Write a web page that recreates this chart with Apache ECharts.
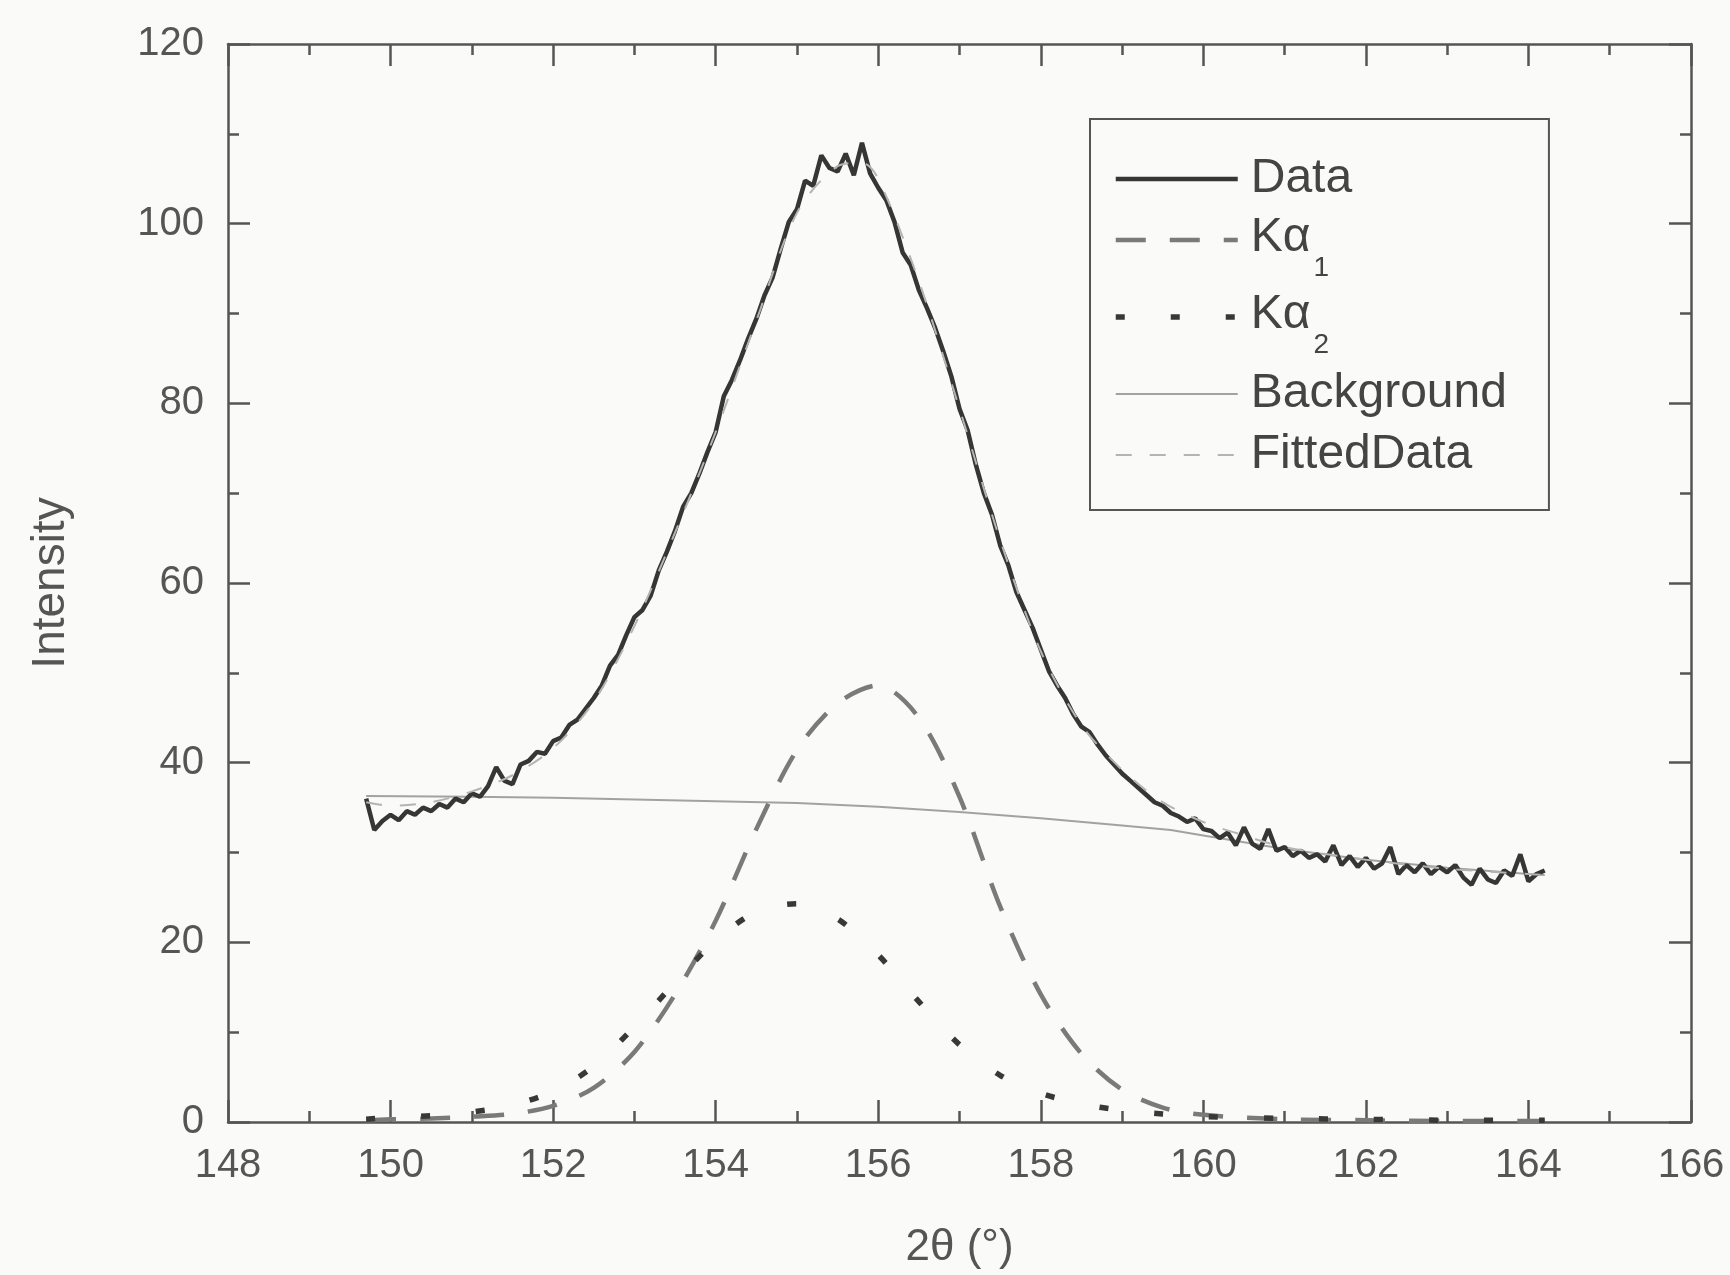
<!DOCTYPE html>
<html>
<head>
<meta charset="utf-8">
<title>XRD peak fit</title>
<script src="https://cdn.jsdelivr.net/npm/echarts@6/dist/echarts.min.js"></script>
<style>
  html, body { margin: 0; padding: 0; background: #fafaf8; }
  #chart { width: 1730px; height: 1275px; }
</style>
</head>
<body>
<div id="chart"></div>
<script>
// 측정 데이터: 149.7°부터 0.1° 간격
const DATA_X0 = 149.7;
const DATA_STEP = 0.1;
const dataY = [
  36.0, 32.5, 33.5, 34.2, 33.6, 34.6, 34.2, 35.0, 34.6, 35.4,
  35.0, 36.0, 35.6, 36.6, 36.2, 37.4, 39.5, 38.0, 37.6, 39.8,
  40.2, 41.2, 41.0, 42.4, 42.8, 44.2, 44.8, 46.0, 47.2, 48.6,
  50.8, 52.0, 54.2, 56.2, 57.0, 58.6, 61.4, 63.5, 65.8, 68.5,
  70.0, 72.2, 74.6, 76.8, 80.8, 82.6, 84.8, 87.2, 89.4, 92.0,
  94.0, 97.2, 100.2, 101.6, 104.8, 104.2, 107.6, 106.2, 105.8, 107.8,
  105.4, 109.0, 105.6, 104.0, 102.6, 100.2, 96.8, 95.4, 92.6, 90.6,
  88.4, 85.8, 83.0, 79.4, 77.0, 73.2, 70.0, 67.6, 64.2, 62.0,
  59.0, 57.0, 55.0, 52.6, 50.2, 48.6, 47.2, 45.4, 44.0, 43.4,
  42.0, 40.8, 39.8, 38.8, 38.0, 37.2, 36.4, 35.6, 35.2, 34.4,
  34.0, 33.4, 33.8, 32.6, 32.4, 31.6, 32.2, 30.8, 32.8, 31.0,
  30.4, 32.6, 30.2, 30.6, 29.6, 30.2, 29.4, 29.8, 29.0, 30.8,
  28.6, 29.6, 28.4, 29.4, 28.2, 28.8, 30.6, 27.6, 28.6, 27.8,
  28.8, 27.6, 28.4, 27.8, 28.6, 27.2, 26.4, 28.2, 27.0, 26.6,
  28.0, 27.4, 29.8, 26.8, 27.6, 28.0
];

// Kα1 / Kα2 성분
const peakX = [149.7, 150, 150.5, 151, 151.5, 152, 152.5, 153, 153.5, 154, 154.5, 155, 155.5,
  156, 156.5, 157, 157.5, 158, 158.5, 159, 159.5, 160, 161, 162, 163, 164, 164.2];
const ka1Y = [0.2, 0.3, 0.4, 0.6, 0.9, 1.8, 3.8, 7.8, 14.2, 22.4, 32.6, 41.4, 46.6,
  48.6, 45.0, 36.2, 24.0, 14.2, 7.6, 3.6, 1.6, 0.8, 0.3, 0.2, 0.1, 0.1, 0.1];
const ka2Y = [0.3, 0.5, 0.7, 1.1, 1.9, 3.4, 6.2, 10.6, 15.5, 20.2, 23.4, 24.3, 22.6,
  18.6, 13.4, 8.6, 5.2, 3.2, 2.0, 1.3, 0.9, 0.6, 0.4, 0.3, 0.2, 0.2, 0.2];

// 배경
const bgX = [149.7, 151, 152, 153, 154, 155, 156, 157, 158, 159, 159.6, 160, 161, 162, 163, 164, 164.2];
const bgY = [36.3, 36.2, 36.1, 35.9, 35.7, 35.5, 35.1, 34.5, 33.8, 33.0, 32.5, 31.9, 30.4, 29.2, 28.3, 27.6, 27.5];

// 피팅 결과
const fitX = [149.7, 150, 150.5, 151, 151.5, 152, 152.5, 153, 153.5, 154, 154.5, 155, 155.5, 155.8,
  156, 156.5, 157, 157.5, 158, 158.5, 159, 159.5, 160, 160.5, 161, 162, 163, 164, 164.2];
const fitY = [35.6, 35.2, 35.6, 36.8, 38.6, 41.6, 46.8, 55.2, 65.6, 76.8, 89.2, 101.2, 106.4, 106.8,
  105.0, 93.6, 79.4, 64.8, 52.4, 44.2, 39.2, 35.6, 33.4, 31.9, 30.6, 29.2, 28.2, 27.6, 27.5];

const X_TICKS = { min: 148, max: 166, interval: 2 };
const Y_TICKS = { min: 0, max: 120, interval: 20 };

const FONT = '"Liberation Sans", Arial, sans-serif';
const AXIS_COLOR = "#555";
const TEXT_COLOR = "#555";

const zip = (xs, ys) => xs.map((x, i) => [x, ys[i]]);
const dataPts = dataY.map((y, i) => [+(DATA_X0 + i * DATA_STEP).toFixed(1), y]);

function axisBase(show) {
  return {
    type: "value",
    axisLine: { show: true, onZero: false, lineStyle: { color: AXIS_COLOR, width: 2.5 } },
    axisTick: { show: true, inside: true, length: 22, lineStyle: { color: AXIS_COLOR, width: 2.5 } },
    minorTick: { show: true, splitNumber: 2, length: 11, lineStyle: { color: AXIS_COLOR, width: 2.5 } },
    splitLine: { show: false },
    axisLabel: {
      show: show, fontSize: 40, color: TEXT_COLOR, fontFamily: FONT, margin: 24,
    },
  };
}

const chart = echarts.init(document.getElementById("chart"), null, { renderer: "canvas" });

chart.setOption({
  backgroundColor: "#fafaf8",
  animation: false,
  textStyle: { fontFamily: FONT },
  grid: { left: 228, right: 39, top: 44, bottom: 148 },
  xAxis: [
    Object.assign(axisBase(true), X_TICKS, {
      position: "bottom",
      name: "2θ (°)", nameLocation: "middle", nameGap: 104,
      nameTextStyle: { fontSize: 44, color: TEXT_COLOR, fontFamily: FONT },
    }),
    Object.assign(axisBase(false), X_TICKS, { position: "top" }),
  ],
  yAxis: [
    Object.assign(axisBase(true), Y_TICKS, {
      position: "left",
      name: "Intensity", nameLocation: "middle", nameGap: 154,
      nameTextStyle: { fontSize: 46, color: TEXT_COLOR, fontFamily: FONT },
    }),
    Object.assign(axisBase(false), Y_TICKS, { position: "right" }),
  ],
  legend: {
    orient: "vertical",
    left: 1090, top: 119,
    padding: [34, 42, 29, 23],
    itemWidth: 122, itemHeight: 20, itemGap: 9,
    borderColor: AXIS_COLOR, borderWidth: 2,
    backgroundColor: "#fafaf8",
    itemStyle: { opacity: 0 },
    lineStyle: { width: "inherit" },
    textStyle: {
      fontSize: 48, color: "#444", fontFamily: FONT, lineHeight: 52,
      padding: [0, 0, 0, 8],
      rich: {
        k: { fontSize: 48, lineHeight: 52, color: "#444", verticalAlign: "top" },
        s: { fontSize: 28, lineHeight: 28, color: "#444", padding: [40, 0, 0, 3], verticalAlign: "top" },
      },
    },
    formatter: (name) => {
      if (name === "Kα1") return "{k|Kα}{s|1}";
      if (name === "Kα2") return "{k|Kα}{s|2}";
      return name;
    },
    data: ["Data", "Kα1", "Kα2", "Background", "FittedData"],
  },
  series: [
    {
      name: "Background", type: "line", data: zip(bgX, bgY), showSymbol: false, symbol: "none",
      lineStyle: { color: "#a2a2a2", width: 2 }, z: 2,
    },
    {
      name: "Kα1", type: "line", data: zip(peakX, ka1Y), showSymbol: false, symbol: "none", smooth: 0.3,
      lineStyle: { color: "#7a7a7a", width: 4.5, type: [30, 24] }, z: 3,
    },
    {
      name: "Kα2", type: "line", data: zip(peakX, ka2Y), showSymbol: false, symbol: "none", smooth: 0.3,
      lineStyle: { color: "#383838", width: 5.5, type: [9, 46] }, z: 3,
    },
    {
      name: "Data", type: "line", data: dataPts, showSymbol: false, symbol: "none",
      lineStyle: { color: "#363636", width: 4.5 }, z: 4,
    },
    {
      name: "FittedData", type: "line", data: zip(fitX, fitY), showSymbol: false, symbol: "none", smooth: 0.3,
      lineStyle: { color: "#b4b4b4", width: 2, type: [16, 18] }, z: 5,
    },
  ],
});
</script>
</body>
</html>
